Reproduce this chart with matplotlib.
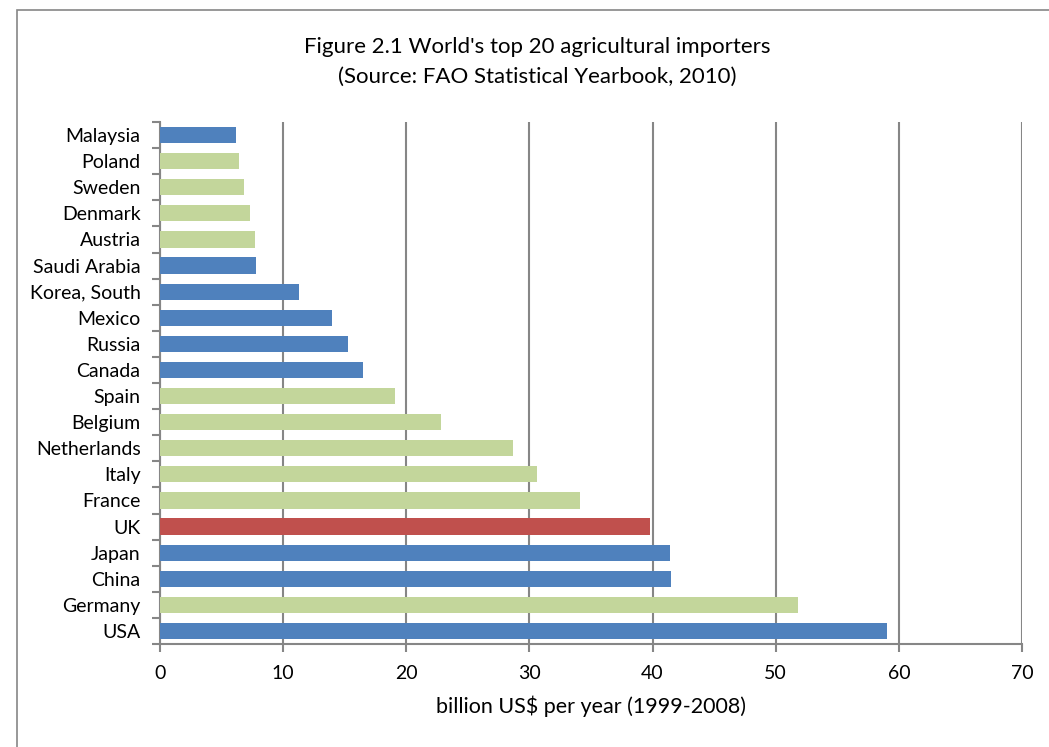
import matplotlib
matplotlib.use("Agg")
import matplotlib.pyplot as plt
from matplotlib.patches import Rectangle
import numpy as np

countries = ["USA", "Germany", "China", "Japan", "UK", "France", "Italy", "Netherlands",
             "Belgium", "Spain", "Canada", "Russia", "Mexico", "Korea, South",
             "Saudi Arabia", "Austria", "Denmark", "Sweden", "Poland", "Malaysia"]
values = [59.0, 51.8, 41.5, 41.4, 39.8, 34.1, 30.6, 28.7, 22.8, 19.1,
          16.5, 15.3, 14.0, 11.3, 7.8, 7.7, 7.3, 6.8, 6.4, 6.2]
groups = ["other", "eu", "other", "other", "uk", "eu", "eu", "eu", "eu", "eu",
          "other", "other", "other", "other", "other", "eu", "eu", "eu", "eu", "other"]
group_colors = {"other": "#4F81BD", "eu": "#C3D69B", "uk": "#C0504D"}
xticks = [0, 10, 20, 30, 40, 50, 60, 70]

plt.rcParams['font.family'] = ['Lato', 'DejaVu Sans']

fig = plt.figure(figsize=(10.49, 7.47), dpi=100)
fig.patches.append(Rectangle((17/1049, -0.1), 1.2, (747-10)/747 + 0.1,
                             transform=fig.transFigure, fill=False,
                             edgecolor="#868686", linewidth=1.2))

ax = fig.add_axes([160/1049, (747-644)/747, 862/1049, 522/747])
y = np.arange(len(countries))
ax.barh(y, values, height=0.62, color=[group_colors[g] for g in groups], zorder=3)

ax.set_xlim(0, 70)
ax.set_ylim(-0.5, len(countries) - 0.5)
ax.set_xticks(xticks)
ax.set_xticklabels([str(t) for t in xticks], fontsize=14)
ax.set_yticks(y)
ax.set_yticklabels(countries, fontsize=14)
ax.set_yticks(np.arange(-0.5, len(countries), 1), minor=True)
ax.tick_params(axis='y', which='major', length=0, pad=14)
ax.tick_params(axis='y', which='minor', length=6, color="#868686", width=1.5, direction='out')
ax.tick_params(axis='x', which='major', length=6, color="#868686", width=1.5, direction='out', pad=9)

ax.grid(axis='x', color="#868686", linewidth=1.5, zorder=0)
for s in ["top", "right"]:
    ax.spines[s].set_visible(False)
for s in ["left", "bottom"]:
    ax.spines[s].set_color("#868686")
    ax.spines[s].set_linewidth(1.5)

ax.set_xlabel("billion US$ per year (1999-2008)", fontsize=15.5, labelpad=10)
fig.text(537/1049, 1 - 47/747, "Figure 2.1 World's top 20 agricultural importers",
         ha='center', va='center', fontsize=16)
fig.text(537/1049, 1 - 77/747, "(Source: FAO Statistical Yearbook, 2010)",
         ha='center', va='center', fontsize=16)

fig.savefig("out.png", dpi=100)
